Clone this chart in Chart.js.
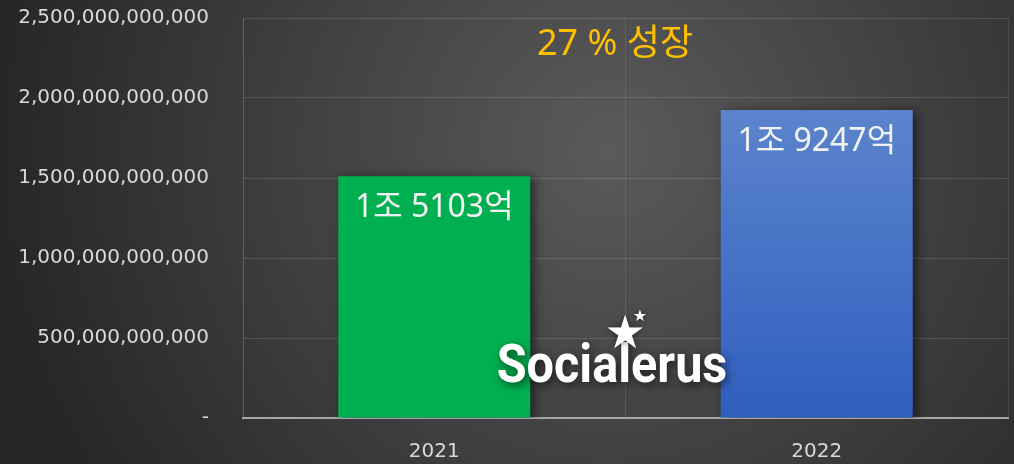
<!DOCTYPE html>
<html>
<head>
<meta charset="utf-8">
<script src="https://cdn.jsdelivr.net/npm/chart.js@4.4.1/dist/chart.umd.min.js"></script>
<style>
html,body{margin:0;padding:0;background:#2b2b2b;}
#wrap{width:1014px;height:464px;position:relative;}
</style>
</head>
<body>
<div id="wrap"><canvas id="c" width="1014" height="464"></canvas></div>
<script>
const categories = ['2021', '2022'];
const revenue = [1510300000000, 1924700000000];
const valueLabels = ['1조 5103억', '1조 9247억'];
const growthText = '27 % 성장';
const watermark = 'Socialerus';
const yMax = 2500000000000;
const yStep = 500000000000;

const FONT = '"Noto Sans", "Noto Sans CJK KR", sans-serif';
const TICKFONT = '"DejaVu Sans", "Noto Sans", sans-serif';

const bgPlugin = {
  id: 'bg',
  beforeDraw(chart) {
    const ctx = chart.ctx;
    const w = chart.width, h = chart.height;
    ctx.save();
    const g = ctx.createRadialGradient(610, 150, 0, 610, 150, 620);
    g.addColorStop(0, '#5a5a5a');
    g.addColorStop(0.45, '#434343');
    g.addColorStop(1, '#262626');
    ctx.fillStyle = g;
    ctx.fillRect(0, 0, w, h);
    ctx.restore();
  }
};

const shadowPlugin = {
  id: 'barShadow',
  beforeDatasetDraw(chart) {
    const ctx = chart.ctx;
    ctx.save();
    ctx.shadowColor = 'rgba(0,0,0,0.55)';
    ctx.shadowBlur = 10;
    ctx.shadowOffsetX = 4;
    ctx.shadowOffsetY = 2;
  },
  afterDatasetDraw(chart) {
    chart.ctx.restore();
  }
};

const labelPlugin = {
  id: 'labels',
  afterDatasetsDraw(chart) {
    const ctx = chart.ctx;
    const meta = chart.getDatasetMeta(0);
    const area = chart.chartArea;
    ctx.save();
    ctx.fillStyle = '#f2f2f2';
    ctx.font = '32px ' + FONT;
    ctx.textAlign = 'center';
    ctx.textBaseline = 'middle';
    meta.data.forEach((bar, i) => {
      ctx.fillText(valueLabels[i], bar.x, bar.y + 32);
    });
    ctx.fillStyle = '#FFC000';
    ctx.font = '36px ' + FONT;
    ctx.fillText(growthText, 615, area.top + 27);
    ctx.save();
    ctx.shadowColor = 'rgba(0,0,0,0.6)';
    ctx.shadowBlur = 8;
    ctx.shadowOffsetX = 2;
    ctx.shadowOffsetY = 3;
    ctx.fillStyle = '#ffffff';
    ctx.translate(612, 368);
    ctx.scale(0.9, 1);
    ctx.font = 'bold 54px Roboto, ' + FONT;
    ctx.textAlign = 'center';
    ctx.textBaseline = 'middle';
    ctx.fillText(watermark, 0, 0);
    ctx.restore();
    ctx.save();
    ctx.shadowColor = 'rgba(0,0,0,0.5)';
    ctx.shadowBlur = 6;
    ctx.fillStyle = '#ffffff';
    ctx.textAlign = 'center';
    ctx.textBaseline = 'middle';
    ctx.font = '46px "DejaVu Sans"';
    ctx.fillText('★', 625, 336);
    ctx.font = '16px "DejaVu Sans"';
    ctx.fillText('★', 640, 317);
    ctx.restore();
    ctx.restore();
  }
};

const ctx = document.getElementById('c').getContext('2d');

function barGradient(context, top, bottom) {
  const chart = context.chart;
  const area = chart.chartArea;
  if (!area) return bottom;
  const g = chart.ctx.createLinearGradient(0, area.top + 90, 0, area.bottom);
  g.addColorStop(0, top);
  g.addColorStop(1, bottom);
  return g;
}

new Chart(ctx, {
  type: 'bar',
  data: {
    labels: categories,
    datasets: [{
      data: revenue,
      backgroundColor: (c) => c.dataIndex === 0 ? '#00B050' : barGradient(c, '#5c84cd', '#2f5fbf'),
      borderWidth: 0,
      barPercentage: 0.502,
      categoryPercentage: 1.0
    }]
  },
  options: {
    responsive: false,
    animation: false,
    devicePixelRatio: 1,
    layout: { padding: { top: 18, right: 6, left: 0, bottom: 0 } },
    plugins: {
      legend: { display: false },
      tooltip: { enabled: false }
    },
    scales: {
      x: {
        grid: {
          display: true,
          color: 'rgba(255,255,255,0.10)',
          lineWidth: 1,
          drawTicks: false,
          offset: true
        },
        border: { display: true, color: '#a6a6a6', width: 2 },
        ticks: {
          color: '#d9d9d9',
          font: { family: TICKFONT, size: 20 },
          padding: 22
        },
        afterFit(scale) { scale.height = 46; }
      },
      y: {
        min: 0,
        max: yMax,
        ticks: {
          stepSize: yStep,
          color: '#d9d9d9',
          font: { family: TICKFONT, size: 20 },
          padding: 34,
          callback: (v) => v === 0 ? '-' : Number(v).toLocaleString('en-US')
        },
        grid: {
          color: 'rgba(255,255,255,0.12)',
          lineWidth: 1,
          drawTicks: false
        },
        border: { display: true, color: 'rgba(255,255,255,0.10)', width: 1 },
        afterFit(scale) {
          scale.width = 243;
          scale.paddingTop = 0;
          scale.paddingBottom = 0;
        }
      }
    }
  },
  plugins: [bgPlugin, shadowPlugin, labelPlugin]
});
</script>
</body>
</html>
